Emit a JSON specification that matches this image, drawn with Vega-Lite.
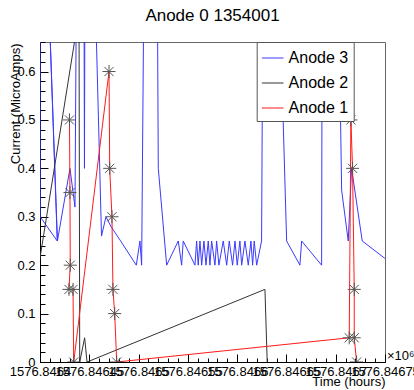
{
  "$schema": "https://vega.github.io/schema/vega-lite/v6.json",
  "width": 345,
  "height": 320,
  "autosize": {"type": "none"},
  "padding": {"left": 40, "top": 42, "right": 29, "bottom": 28},
  "background": "white",
  "title": {"text": "Anode 0 1354001", "fontSize": 17, "font": "Liberation Sans", "fontWeight": "normal", "anchor": "middle", "offset": 17, "color": "black"},
  "config": {"view": {"stroke": "#666", "strokeWidth": 1}, "font": "Liberation Sans"},
  "datasets": {
    "lines": [
      {"s": "Anode 3", "i": 1, "t": 1576.8464, "v": 0.8},
      {"s": "Anode 3", "i": 2, "t": 1576.8464002, "v": 0.30},
      {"s": "Anode 3", "i": 3, "t": 1576.8464175, "v": 0.25},
      {"s": "Anode 3", "i": 4, "t": 1576.8464089, "v": 0.75},
      {"s": "Anode 3", "i": 5, "t": 1576.8464177, "v": 0.25},
      {"s": "Anode 3", "i": 6, "t": 1576.8464304, "v": 0.40},
      {"s": "Anode 3", "i": 7, "t": 1576.8464355, "v": 0.32},
      {"s": "Anode 3", "i": 8, "t": 1576.846437, "v": 0.8},
      {"s": "Anode 3", "i": 9, "t": 1576.8464446, "v": 0.8},
      {"s": "Anode 3", "i": 10, "t": 1576.8464451, "v": 0.40},
      {"s": "Anode 3", "i": 11, "t": 1576.8464456, "v": 0.8},
      {"s": "Anode 3", "i": 12, "t": 1576.8464555, "v": 0.8},
      {"s": "Anode 3", "i": 13, "t": 1576.8464624, "v": 0.26},
      {"s": "Anode 3", "i": 14, "t": 1576.8464669, "v": 0.30},
      {"s": "Anode 3", "i": 15, "t": 1576.846472, "v": 0.28},
      {"s": "Anode 3", "i": 16, "t": 1576.8464818, "v": 0.25},
      {"s": "Anode 3", "i": 17, "t": 1576.8464977, "v": 0.20},
      {"s": "Anode 3", "i": 18, "t": 1576.8465014, "v": 0.25},
      {"s": "Anode 3", "i": 19, "t": 1576.8465031, "v": 0.20},
      {"s": "Anode 3", "i": 20, "t": 1576.8465055, "v": 0.8},
      {"s": "Anode 3", "i": 21, "t": 1576.846519, "v": 0.8},
      {"s": "Anode 3", "i": 22, "t": 1576.84652, "v": 0.40},
      {"s": "Anode 3", "i": 23, "t": 1576.8465285, "v": 0.20},
      {"s": "Anode 3", "i": 24, "t": 1576.8465403, "v": 0.25},
      {"s": "Anode 3", "i": 25, "t": 1576.8465437, "v": 0.20},
      {"s": "Anode 3", "i": 26, "t": 1576.8465453, "v": 0.25},
      {"s": "Anode 3", "i": 27, "t": 1576.8465572, "v": 0.20},
      {"s": "Anode 3", "i": 28, "t": 1576.8465589, "v": 0.25},
      {"s": "Anode 3", "i": 29, "t": 1576.8465605, "v": 0.20},
      {"s": "Anode 3", "i": 30, "t": 1576.8465623, "v": 0.25},
      {"s": "Anode 3", "i": 31, "t": 1576.846564, "v": 0.20},
      {"s": "Anode 3", "i": 32, "t": 1576.8465663, "v": 0.25},
      {"s": "Anode 3", "i": 33, "t": 1576.8465684, "v": 0.20},
      {"s": "Anode 3", "i": 34, "t": 1576.8465707, "v": 0.25},
      {"s": "Anode 3", "i": 35, "t": 1576.8465724, "v": 0.20},
      {"s": "Anode 3", "i": 36, "t": 1576.8465741, "v": 0.25},
      {"s": "Anode 3", "i": 37, "t": 1576.8465775, "v": 0.20},
      {"s": "Anode 3", "i": 38, "t": 1576.8465792, "v": 0.25},
      {"s": "Anode 3", "i": 39, "t": 1576.8465815, "v": 0.20},
      {"s": "Anode 3", "i": 40, "t": 1576.8465859, "v": 0.25},
      {"s": "Anode 3", "i": 41, "t": 1576.8465894, "v": 0.20},
      {"s": "Anode 3", "i": 42, "t": 1576.846592, "v": 0.25},
      {"s": "Anode 3", "i": 43, "t": 1576.8465954, "v": 0.20},
      {"s": "Anode 3", "i": 44, "t": 1576.8465978, "v": 0.25},
      {"s": "Anode 3", "i": 45, "t": 1576.8466001, "v": 0.20},
      {"s": "Anode 3", "i": 46, "t": 1576.8466028, "v": 0.25},
      {"s": "Anode 3", "i": 47, "t": 1576.8466046, "v": 0.20},
      {"s": "Anode 3", "i": 48, "t": 1576.8466079, "v": 0.25},
      {"s": "Anode 3", "i": 49, "t": 1576.8466113, "v": 0.20},
      {"s": "Anode 3", "i": 50, "t": 1576.846614, "v": 0.25},
      {"s": "Anode 3", "i": 51, "t": 1576.8466157, "v": 0.20},
      {"s": "Anode 3", "i": 52, "t": 1576.8466173, "v": 0.25},
      {"s": "Anode 3", "i": 53, "t": 1576.8466198, "v": 0.20},
      {"s": "Anode 3", "i": 54, "t": 1576.8466248, "v": 0.25},
      {"s": "Anode 3", "i": 55, "t": 1576.8466262, "v": 0.8},
      {"s": "Anode 3", "i": 56, "t": 1576.8466424, "v": 0.8},
      {"s": "Anode 3", "i": 57, "t": 1576.8466502, "v": 0.25},
      {"s": "Anode 3", "i": 58, "t": 1576.8466637, "v": 0.20},
      {"s": "Anode 3", "i": 59, "t": 1576.8466654, "v": 0.25},
      {"s": "Anode 3", "i": 60, "t": 1576.8466857, "v": 0.20},
      {"s": "Anode 3", "i": 61, "t": 1576.8466863, "v": 0.8},
      {"s": "Anode 3", "i": 62, "t": 1576.8467027, "v": 0.8},
      {"s": "Anode 3", "i": 63, "t": 1576.846706, "v": 0.355},
      {"s": "Anode 3", "i": 64, "t": 1576.8467127, "v": 0.25},
      {"s": "Anode 3", "i": 65, "t": 1576.8467161, "v": 0.40},
      {"s": "Anode 3", "i": 66, "t": 1576.8467269, "v": 0.25},
      {"s": "Anode 3", "i": 67, "t": 1576.8467499, "v": 0.214},
      {"s": "Anode 2", "i": 1, "t": 1576.8463949, "v": 0.15},
      {"s": "Anode 2", "i": 2, "t": 1576.8464396, "v": 0.72},
      {"s": "Anode 2", "i": 3, "t": 1576.8464403, "v": 0.0},
      {"s": "Anode 2", "i": 4, "t": 1576.8464453, "v": 0.05},
      {"s": "Anode 2", "i": 5, "t": 1576.8464477, "v": 0.0},
      {"s": "Anode 2", "i": 6, "t": 1576.8466282, "v": 0.15},
      {"s": "Anode 2", "i": 7, "t": 1576.8466305, "v": 0.0},
      {"s": "Anode 1", "i": 1, "t": 1576.8464299, "v": 0.50},
      {"s": "Anode 1", "i": 2, "t": 1576.8464304, "v": 0.35},
      {"s": "Anode 1", "i": 3, "t": 1576.8464307, "v": 0.20},
      {"s": "Anode 1", "i": 4, "t": 1576.8464294, "v": 0.15},
      {"s": "Anode 1", "i": 5, "t": 1576.8464335, "v": 0.15},
      {"s": "Anode 1", "i": 6, "t": 1576.8464342, "v": 0.0},
      {"s": "Anode 1", "i": 7, "t": 1576.84647, "v": 0.60},
      {"s": "Anode 1", "i": 8, "t": 1576.8464707, "v": 0.40},
      {"s": "Anode 1", "i": 9, "t": 1576.846473, "v": 0.30},
      {"s": "Anode 1", "i": 10, "t": 1576.846474, "v": 0.15},
      {"s": "Anode 1", "i": 11, "t": 1576.8464758, "v": 0.10},
      {"s": "Anode 1", "i": 12, "t": 1576.8464778, "v": 0.0},
      {"s": "Anode 1", "i": 13, "t": 1576.8467137, "v": 0.05},
      {"s": "Anode 1", "i": 14, "t": 1576.8467154, "v": 0.50},
      {"s": "Anode 1", "i": 15, "t": 1576.8467171, "v": 0.40},
      {"s": "Anode 1", "i": 16, "t": 1576.8467188, "v": 0.15},
      {"s": "Anode 1", "i": 17, "t": 1576.8467188, "v": 0.05},
      {"s": "Anode 1", "i": 18, "t": 1576.8467212, "v": 0.0}
    ],
    "exp": [{"label": "×10⁶"}]
  },
  "layer": [
    {
      "data": {"name": "lines"},
      "mark": {"type": "line", "clip": true, "strokeWidth": 1},
      "encoding": {
        "x": {"field": "t", "type": "quantitative",
          "scale": {"domain": [1576.8464, 1576.84675], "nice": false, "zero": false},
          "axis": {"orient": "bottom", "values": [1576.8464, 1576.84645, 1576.8465, 1576.84655, 1576.8466, 1576.84665, 1576.8467, 1576.84675],
            "format": ".5~f", "tickSize": -8, "labelPadding": 11, "labelOverlap": false, "labelFlush": false, "labelBound": false,
            "grid": false, "domainColor": "black", "tickColor": "black", "labelFontSize": 13, "labelColor": "black", "labelFont": "Liberation Sans",
            "title": "Time (hours)", "titleAnchor": "end", "titleX": 345, "titleY": 19, "titleAlign": "right", "titleBaseline": "middle",
            "titleFontSize": 13, "titleFontWeight": "normal", "titleColor": "black", "titleFont": "Liberation Sans"}},
        "y": {"field": "v", "type": "quantitative",
          "scale": {"domain": [0, 0.661], "nice": false, "zero": false},
          "axis": {"orient": "left", "values": [0, 0.1, 0.2, 0.3, 0.4, 0.5, 0.6], "format": ".1~f",
            "tickSize": -8, "labelPadding": 13, "labelOverlap": false, "labelFlush": false, "labelBound": false,
            "grid": false, "domainColor": "black", "tickColor": "black", "labelFontSize": 13, "labelColor": "black", "labelFont": "Liberation Sans",
            "title": "Current (MicroAmps)", "titleAngle": -90, "titleX": -25, "titleY": 1, "titleAlign": "right", "titleBaseline": "middle",
            "titleFontSize": 13, "titleFontWeight": "normal", "titleColor": "black", "titleFont": "Liberation Sans"}},
        "color": {"field": "s", "type": "nominal",
          "scale": {"domain": ["Anode 3", "Anode 2", "Anode 1"], "range": ["#3a3aff", "#333333", "#ff1a1a"]},
          "legend": {"title": null, "orient": "none", "legendX": 216.7, "legendY": 0, "fillColor": "white", "strokeColor": "#555",
            "padding": 4.5, "symbolType": "stroke", "symbolSize": 467, "symbolStrokeWidth": 1, "labelOffset": 4.4,
            "labelFontSize": 16, "labelFont": "Liberation Sans", "labelColor": "black", "rowPadding": 5,
            "labelExpr": "datum.label + '\u00a0\u00a0\u00a0\u00a0\u00a0\u00a0\u00a0\u00a0\u00a0\u00a0\u00a0\u00a0\u00a0\u00a0'"}},
        "order": {"field": "i", "type": "quantitative"}
      }
    },
    {
      "data": {"name": "lines"},
      "transform": [{"filter": "datum.s === 'Anode 1'"}],
      "mark": {"type": "point", "shape": "M-1,0L1,0M0,-1L0,1M-0.7,-0.7L0.7,0.7M-0.7,0.7L0.7,-0.7", "filled": false, "stroke": "#555", "strokeWidth": 1, "size": 170, "opacity": 1, "clip": true},
      "encoding": {
        "x": {"field": "t", "type": "quantitative",
          "scale": {"domain": [1576.8464, 1576.84675], "nice": false, "zero": false},
          "axis": {"orient": "bottom", "values": [1576.8464, 1576.84641, 1576.84642, 1576.84643, 1576.84644, 1576.84645, 1576.84646, 1576.84647, 1576.84648, 1576.84649, 1576.8465, 1576.84651, 1576.84652, 1576.84653, 1576.84654, 1576.84655, 1576.84656, 1576.84657, 1576.84658, 1576.84659, 1576.8466, 1576.84661, 1576.84662, 1576.84663, 1576.84664, 1576.84665, 1576.84666, 1576.84667, 1576.84668, 1576.84669, 1576.8467, 1576.84671, 1576.84672, 1576.84673, 1576.84674, 1576.84675],
            "tickSize": -4, "labels": false, "domain": false, "grid": false, "tickColor": "black", "title": null}},
        "y": {"field": "v", "type": "quantitative",
          "scale": {"domain": [0, 0.661], "nice": false, "zero": false},
          "axis": {"orient": "left", "values": [0, 0.02, 0.04, 0.06, 0.08, 0.1, 0.12, 0.14, 0.16, 0.18, 0.2, 0.22, 0.24, 0.26, 0.28, 0.3, 0.32, 0.34, 0.36, 0.38, 0.4, 0.42, 0.44, 0.46, 0.48, 0.5, 0.52, 0.54, 0.56, 0.58, 0.6, 0.62, 0.64, 0.66],
            "tickSize": -5, "labels": false, "domain": false, "grid": false, "tickColor": "black", "title": null}}
      }
    },
    {
      "data": {"name": "exp"},
      "mark": {"type": "text", "align": "left", "baseline": "bottom", "dx": 2, "dy": 1, "fontSize": 13, "font": "Liberation Sans", "color": "black"},
      "encoding": {
        "x": {"datum": 1576.84675, "type": "quantitative", "scale": {"domain": [1576.8464, 1576.84675], "nice": false, "zero": false}, "axis": null},
        "y": {"datum": 0, "type": "quantitative", "scale": {"domain": [0, 0.661], "nice": false, "zero": false}, "axis": null},
        "text": {"field": "label"}
      }
    }
  ],
  "resolve": {"axis": {"x": "independent", "y": "independent"}}
}
